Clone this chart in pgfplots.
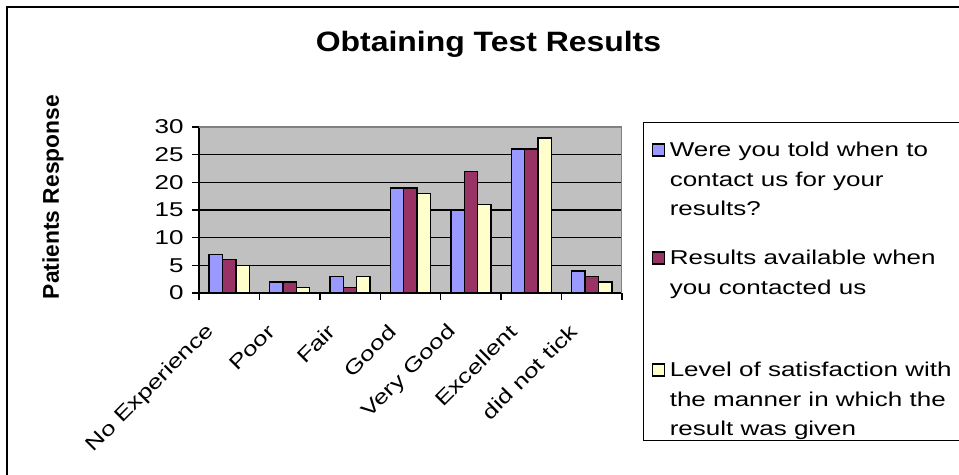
\documentclass[border=0pt]{standalone}
\usepackage{fontspec}
\usepackage{pgfplots}
\pgfplotsset{compat=1.18}
\setmainfont{Liberation Sans}
\newfontfamily\widefont{Liberation Sans}[FakeStretch=1.3]
\newfontfamily\titlefont{Liberation Sans}[FakeStretch=1.14]
\newfontfamily\plainfont{Liberation Sans}
\definecolor{serA}{HTML}{9999FF}
\definecolor{serB}{HTML}{993366}
\definecolor{serC}{HTML}{FFFFCC}
\definecolor{plotgray}{HTML}{C0C0C0}
\newcommand{\legfont}{\widefont\fontsize{10}{14.75}\selectfont}
\newcommand{\tickfont}{\widefont\fontsize{10}{12}\selectfont}
\pgfplotsset{mylegend/.style={legend image code/.code={\draw[##1, draw=black, line width=0.6pt] (0pt,0.5pt) rectangle (6pt,6.5pt);}}}
\begin{document}
\begin{tikzpicture}
\path[use as bounding box] (0pt,0pt) rectangle (479.5pt,237.5pt);
\draw[black, line width=0.8pt] (3.5pt,-2pt) -- (3.5pt,234pt) -- (482pt,234pt);
\begin{axis}[
  at={(99.5pt,91pt)}, anchor=south west,
  scale only axis, width=211.5pt, height=83pt,
  xmin=-0.5, xmax=6.5, ymin=0, ymax=30,
  axis x line*=bottom, axis y line*=left,
  axis line style={-, black, line width=0.8pt},
  axis background/.style={fill=plotgray},
  ytick={0,5,10,15,20,25,30},
  xtick={-0.5,0.5,1.5,2.5,3.5,4.5,5.5,6.5},
  x tick label as interval,
  xticklabels={No Experience,Poor,Fair,Good,Very Good,Excellent,did not tick},
  tick align=outside, major tick length=3.5pt,
  tick style={black, line width=0.7pt},
  ymajorgrids, grid style={black, line width=0.8pt},
  /pgf/number format/assume math mode=true,
  yticklabel style={font=\tickfont, inner sep=0pt, xshift=-4pt},
  xticklabel style={font=\tickfont, inner sep=0pt, xshift=-9pt, yshift=-14pt, rotate=45, anchor=east},
  ybar=0pt, bar width=6.7pt,
  title={Obtaining Test Results},
  title style={font=\titlefont\bfseries\fontsize{14}{16}\selectfont, at={(axis description cs:0.6844,1.453)}, anchor=base, inner sep=0pt, yshift=-6pt},
  ylabel={Patients Response},
  ylabel style={font=\plainfont\bfseries\fontsize{11.4}{13}\selectfont, at={(axis description cs:-0.331,0.578)}, anchor=base, inner sep=0pt},
  legend cell align=left,
  legend style={at={(axis description cs:1.0496,1.0319)}, anchor=north west,
    draw=black, line width=0.6pt, fill=white,
    inner xsep=4pt, inner ysep=7pt, row sep=0pt, column sep=2.5pt,
    cells={anchor=base west},
    nodes={inner sep=0pt, text depth={}, anchor=base west}, font=\legfont},
]
\addplot[fill=serA, draw=black, line width=0.7pt, mylegend] coordinates {(0,7) (1,2) (2,3) (3,19) (4,15) (5,26) (6,4)};
\addlegendentry{\parbox[t][54pt][t]{141pt}{\strut Were you told when to\\contact us for your\\results?}}
\addplot[fill=serB, draw=black, line width=0.7pt, mylegend] coordinates {(0,6) (1,2) (2,1) (3,19) (4,22) (5,26) (6,3)};
\addlegendentry{\parbox[t][56pt][t]{141pt}{\strut Results available when\\you contacted us}}
\addplot[fill=serC, draw=black, line width=0.7pt, mylegend] coordinates {(0,5) (1,1) (2,3) (3,18) (4,16) (5,28) (6,2)};
\addlegendentry{\parbox[t][35pt][t]{141pt}{\strut Level of satisfaction with\\the manner in which the\\result was given}}
\draw[gray, line width=0.6pt] (rel axis cs:0,1) -- (rel axis cs:1,1) -- (rel axis cs:1,0);
\end{axis}
\end{tikzpicture}
\end{document}
